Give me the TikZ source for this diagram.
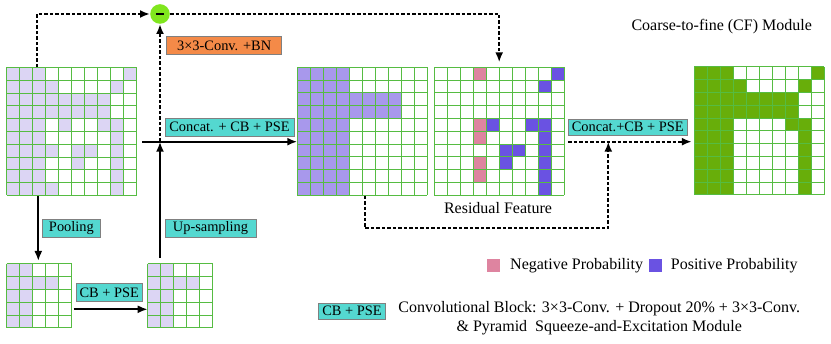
\documentclass[tikz,border=0pt]{standalone}
\usepackage{fontspec}
\setmainfont{Liberation Serif}
\usetikzlibrary{arrows.meta,calc}
\definecolor{gline}{RGB}{86,188,66}
\definecolor{lav}{RGB}{220,213,244}
\definecolor{mpurp}{RGB}{168,152,236}
\definecolor{pblue}{RGB}{106,82,226}
\definecolor{npink}{RGB}{222,132,160}
\definecolor{gfill}{RGB}{104,174,10}
\definecolor{tealbox}{RGB}{84,216,208}
\definecolor{orangebox}{RGB}{244,138,72}
\definecolor{minusgreen}{RGB}{128,230,30}
\definecolor{boxedge}{RGB}{128,128,128}
\newcommand{\mycells}[4]{\foreach \rr/\cc in {#4}{\fill[#3] ({#1+\cc*13},{#2+\rr*12.8}) rectangle ++(13,12.8);}}
\newcommand{\mygrid}[4]{%
  \foreach \k in {0,...,#4}{%
    \draw[gridln] ({#2+\k*13},#3) -- ++(0,{#4*12.8});
    \draw[gridln] (#2,{#3+\k*12.8}) -- ++({#4*13},0);}
  \node[inner sep=0pt,minimum width={#4*13pt},minimum height={#4*12.8pt},anchor=north west] (#1) at (#2,#3) {};}
\tikzset{
  gridln/.style={gline,line width=1pt},
  solidarrow/.style={line width=2pt,-{Latex[length=10pt,width=8pt]}},
  dotarrow/.style={line width=2pt,dash pattern=on 3.5pt off 2pt,-{Latex[length=10pt,width=8pt]}},
  lbl/.style={draw=boxedge,line width=0.8pt,fill=tealbox,inner sep=0pt,font=\fontsize{14.4}{16}\selectfont,minimum height=18pt},
  freetext/.style={font=\fontsize{16}{19}\selectfont,inner sep=0pt},
  legsq/.style={inner sep=0pt,minimum width=13pt,minimum height=13pt},
}
\begin{document}
\begin{tikzpicture}[x=1pt,y=-1pt]
\useasboundingbox (0,0) rectangle (831,344);
% ---- grid 1 (input)
\mycells{6.7}{67.5}{lav}{0/0,0/1,0/2,0/9,1/0,1/1,1/2,1/3,1/8,2/0,2/1,2/2,2/3,2/4,2/5,2/6,2/7,3/0,3/1,3/2,3/3,3/4,3/5,3/6,3/7,4/0,4/1,4/2,4/4,4/7,4/8,5/0,5/1,5/2,5/8,6/0,6/1,6/2,6/3,6/5,6/6,6/8,7/0,7/1,7/2,7/5,7/8,8/0,8/1,8/2,8/8,9/0,9/1,9/2,9/3,9/8}
\mygrid{g1}{6.7}{67.5}{10}
% ---- small grids
\mycells{6.7}{264}{lav}{0/0,0/1,1/0,1/1,1/2,1/3,2/0,2/1,3/0,3/1,4/0,4/1}
\mygrid{s1}{6.7}{264}{5}
\mycells{147.7}{264}{lav}{0/0,0/1,1/0,1/1,1/2,1/3,2/0,2/1,3/0,3/1,4/0,4/1}
\mygrid{s2}{147.7}{264}{5}
% ---- grid 2 (concat)
\fill[mpurp] (297.3,67.3) rectangle ++(52,128);
\fill[mpurp] (349.3,92.9) rectangle ++(52,25.6);
\mygrid{g2}{297.3}{67.3}{10}
% ---- grid 3 (residual)
\mycells{434}{67.3}{npink}{0/3,4/3,5/3,7/3,8/3}
\mycells{434}{67.3}{pblue}{0/9,1/8,4/4,4/7,4/8,5/8,6/5,6/6,6/8,7/5,7/8,8/8,9/8}
\mygrid{g3}{434}{67.3}{10}
% ---- grid 4 (output)
\mycells{694.3}{67}{gfill}{0/0,0/1,0/2,0/9,1/0,1/1,1/2,1/3,1/8,2/0,2/1,2/2,2/3,2/4,2/5,2/6,2/7,3/0,3/1,3/2,3/3,3/4,3/5,3/6,3/7,4/0,4/1,4/2,4/7,4/8,5/0,5/1,5/2,5/8,6/0,6/1,6/2,6/8,7/0,7/1,7/2,7/8,8/0,8/1,8/2,8/8,9/0,9/1,9/2,9/8}
\mygrid{g4}{694.3}{67}{10}
% ---- labels
\node[lbl,minimum width=57.3pt] (pool) at (71.4,228.2) {Pooling};
\node[lbl,minimum width=91pt] (ups) at (210.5,228.3) {Up-sampling};
\node[lbl,minimum width=66.7pt] (cb1) at (109.3,292.8) {CB + PSE};
\node[lbl,minimum width=129pt] (cat1) at (229.5,127.2) {Concat. + CB + PSE};
\node[lbl,fill=orangebox,minimum width=115pt] (conv) at (224.2,45.8) {3×3-Conv. +BN};
\node[lbl,minimum width=119pt,minimum height=15.7pt] (cat2) at (627.8,127.2) {Concat.+CB + PSE};
\node[lbl,minimum width=67.4pt,minimum height=15.7pt] (cb2) at (352,311.2) {CB + PSE};
\node[circle,fill=minusgreen,minimum size=19.6pt,inner sep=0pt] (m) at (160,14) {\rule{8.5pt}{2pt}};
\node[freetext] (cf) at (721.7,26.7) {Coarse-to-fine (CF) Module};
\node[freetext] (res) at (498,208) {Residual Feature};
\node[legsq,fill=npink] (negsq) at (493.6,265.6) {};
\node[freetext,anchor=west] (neg) at (510,265.7) {Negative Probability};
\node[legsq,fill=pblue] (possq) at (655,265.6) {};
\node[freetext,anchor=west] (pos) at (670.7,265.7) {Positive Probability};
\node[freetext,align=center] (cbdesc) at (599.2,317.8) {Convolutional Block: 3×3-Conv. + Dropout 20\% + 3×3-Conv.\\\& Pyramid\ \ Squeeze-and-Excitation Module};
% ---- coordinates
\coordinate (J) at (160,141.7);
\coordinate (C0) at (142.3,141.7);
\coordinate (J2) at (608.3,141.7);
\coordinate (K) at (568,141.7);
\coordinate (low) at (608.3,228.3);
% ---- connectors
\draw[solidarrow,shorten >=3pt] ([xshift=31.6pt]g1.south west) -- ([xshift=31.6pt]s1.north west);
\draw[solidarrow] ([xshift=1.5pt]s1.east |- 0,309.3) -- (s2.west |- 0,309.3);
\draw[solidarrow] ([xshift=12.3pt,yshift=6pt]s2.north west) -- (J);
\draw[solidarrow] (C0) -- (g2.west |- J);
\draw[dotarrow] (J) -- (m.south);
\draw[dotarrow] ([xshift=30.6pt]g1.north west) |- (m.west);
\draw[dotarrow,shorten >=5pt] (m.east) -| (g3.north);
\draw[dotarrow] ([xshift=67.7pt]g2.south west) |- (low) -- (J2);
\draw[dotarrow,shorten >=2.5pt] (K) -- (g4.west |- K);
\end{tikzpicture}
\end{document}
